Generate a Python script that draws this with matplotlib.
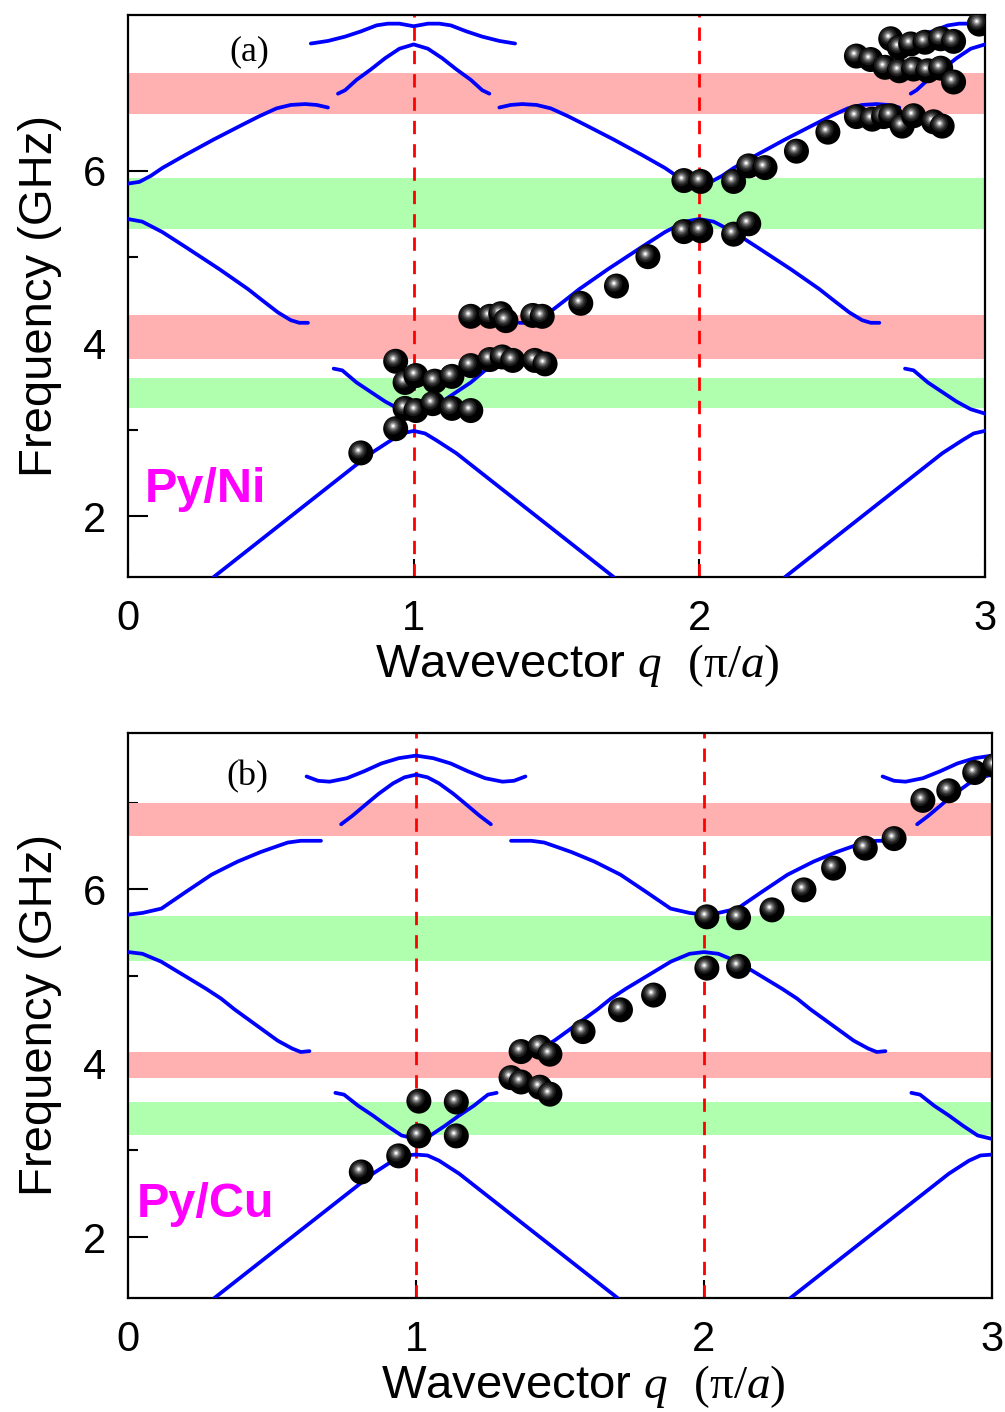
import matplotlib
matplotlib.use("Agg")
import matplotlib.pyplot as plt
from matplotlib.transforms import offset_copy

plt.rcParams['font.family'] = ['Liberation Sans', 'DejaVu Sans']
plt.rcParams['mathtext.fontset'] = 'custom'
plt.rcParams['mathtext.rm'] = 'Liberation Serif'
plt.rcParams['mathtext.it'] = 'Liberation Serif:italic'

# ---------------- panel (a): Py/Ni ----------------
# band-gap stripes (GHz)
a_gaps_red = [(6.66, 7.13), (3.82, 4.33)]
a_gaps_green = [(5.32, 5.91), (3.25, 3.60)]

# calculated dispersion branches (q in pi/a, f in GHz)
a_br1_q = [0.30, 0.50, 0.70, 0.85, 0.92, 0.96, 1.00, 1.04, 1.08, 1.15, 1.30, 1.50, 1.70]
a_br1_f = [1.30, 1.82, 2.34, 2.73, 2.88, 2.96, 2.99, 2.96, 2.88, 2.73, 2.34, 1.82, 1.30]
a_br1b_q = [2.30, 2.50, 2.70, 2.85, 2.92, 2.96, 3.00]
a_br1b_f = [1.30, 1.82, 2.34, 2.73, 2.88, 2.96, 2.99]

a_br2_q = [0.00, 0.05, 0.12, 0.20, 0.32, 0.42, 0.47, 0.525, 0.57, 0.60, 0.63]
a_br2_f = [5.44, 5.41, 5.29, 5.12, 4.86, 4.63, 4.50, 4.36, 4.27, 4.24, 4.24]
a_br2b_q = [1.37, 1.40, 1.43, 1.475, 1.53, 1.58, 1.68, 1.80, 1.88, 1.95, 2.00,
            2.05, 2.12, 2.20, 2.32, 2.42, 2.47, 2.525, 2.57, 2.60, 2.63]
a_br2b_f = [4.24, 4.24, 4.27, 4.36, 4.50, 4.63, 4.86, 5.12, 5.29, 5.41, 5.44,
            5.41, 5.29, 5.12, 4.86, 4.63, 4.50, 4.36, 4.27, 4.24, 4.24]

a_br3_q = [0.72, 0.75, 0.80, 0.85, 0.90, 0.95, 1.00, 1.05, 1.10, 1.15, 1.20, 1.25, 1.28]
a_br3_f = [3.71, 3.69, 3.55, 3.44, 3.33, 3.24, 3.19, 3.24, 3.33, 3.44, 3.55, 3.69, 3.71]
a_br3b_q = [2.72, 2.75, 2.80, 2.85, 2.90, 2.95, 3.00]
a_br3b_f = [3.71, 3.69, 3.55, 3.44, 3.33, 3.24, 3.19]

a_br4_q = [0.00, 0.04, 0.08, 0.12, 0.20, 0.30, 0.40, 0.46, 0.52, 0.57, 0.62, 0.66, 0.70]
a_br4_f = [5.85, 5.87, 5.94, 6.03, 6.18, 6.36, 6.53, 6.63, 6.72, 6.76, 6.77, 6.76, 6.73]
a_br4b_q = [1.30, 1.34, 1.38, 1.43, 1.48, 1.54, 1.60, 1.70, 1.80, 1.88, 1.92, 1.96, 2.00,
            2.04, 2.08, 2.12, 2.20, 2.30, 2.40, 2.46, 2.52, 2.57, 2.62, 2.66, 2.70]
a_br4b_f = [6.73, 6.76, 6.77, 6.76, 6.72, 6.63, 6.53, 6.36, 6.18, 6.03, 5.94, 5.87, 5.85,
            5.87, 5.94, 6.03, 6.18, 6.36, 6.53, 6.63, 6.72, 6.76, 6.77, 6.76, 6.73]

a_br5_q = [0.735, 0.76, 0.80, 0.85, 0.90, 0.95, 1.00, 1.05, 1.10, 1.15, 1.20, 1.24, 1.265]
a_br5_f = [6.89, 6.93, 7.05, 7.17, 7.30, 7.41, 7.46, 7.41, 7.30, 7.17, 7.05, 6.93, 6.89]
a_br5b_q = [2.74, 2.76, 2.80, 2.85, 2.90, 2.95, 3.00]
a_br5b_f = [6.89, 6.93, 7.05, 7.17, 7.30, 7.41, 7.46]

a_br6_q = [0.64, 0.70, 0.76, 0.815, 0.87, 0.91, 0.95, 1.00, 1.05, 1.09, 1.13, 1.185, 1.24, 1.30, 1.355]
a_br6_f = [7.47, 7.50, 7.55, 7.61, 7.68, 7.70, 7.70, 7.67, 7.70, 7.70, 7.68, 7.61, 7.55, 7.50, 7.47]
a_br6b_q = [2.64, 2.70, 2.76, 2.815, 2.87, 2.91, 2.95, 3.00]
a_br6b_f = [7.47, 7.50, 7.55, 7.61, 7.68, 7.70, 7.70, 7.67]

# measured modes
a_meas_q = [0.815, 0.937, 0.937, 0.97, 1.008, 1.074, 1.134, 1.20, 1.267, 1.31, 1.347, 1.424, 1.46,
            0.97, 1.008, 1.067, 1.134, 1.20,
            1.20, 1.267, 1.305, 1.323, 1.417, 1.45,
            1.585, 1.71, 1.82, 1.946, 2.005, 2.12, 2.173,
            1.946, 2.005, 2.12, 2.173, 2.23, 2.34, 2.45,
            2.55, 2.605, 2.645, 2.67, 2.71, 2.75, 2.82, 2.85,
            2.55, 2.60, 2.65, 2.70, 2.75, 2.80, 2.845, 2.89,
            2.67, 2.70, 2.74, 2.79, 2.845, 2.89, 2.98]
a_meas_f = [2.735, 3.015, 3.795, 3.55, 3.63, 3.565, 3.62, 3.745, 3.815, 3.845, 3.805, 3.805, 3.765,
            3.25, 3.225, 3.305, 3.25, 3.225,
            4.315, 4.315, 4.345, 4.265, 4.325, 4.315,
            4.465, 4.665, 5.005, 5.295, 5.305, 5.265, 5.385,
            5.885, 5.875, 5.875, 6.055, 6.035, 6.225, 6.445,
            6.625, 6.595, 6.625, 6.635, 6.515, 6.635, 6.565, 6.515,
            7.325, 7.285, 7.195, 7.155, 7.175, 7.155, 7.185, 7.025,
            7.525, 7.425, 7.465, 7.485, 7.525, 7.495, 7.695]

# ---------------- panel (b): Py/Cu ----------------
b_gaps_red = [(6.61, 6.99), (3.83, 4.13)]
b_gaps_green = [(5.18, 5.70), (3.17, 3.55)]

b_br1_q = [0.30, 0.50, 0.70, 0.85, 0.92, 0.96, 1.00, 1.04, 1.08, 1.15, 1.30, 1.50, 1.70]
b_br1_f = [1.30, 1.82, 2.34, 2.73, 2.88, 2.94, 2.95, 2.94, 2.88, 2.73, 2.34, 1.82, 1.30]
b_br1b_q = [2.30, 2.50, 2.70, 2.85, 2.92, 2.96, 3.00]
b_br1b_f = [1.30, 1.82, 2.34, 2.73, 2.88, 2.94, 2.95]

b_br2_q = [0.00, 0.05, 0.115, 0.20, 0.27, 0.323, 0.37, 0.42, 0.47, 0.52, 0.57, 0.60, 0.63]
b_br2_f = [5.28, 5.26, 5.17, 5.00, 4.86, 4.745, 4.62, 4.50, 4.38, 4.26, 4.17, 4.13, 4.14]
b_br2b_q = [1.37, 1.40, 1.43, 1.48, 1.53, 1.58, 1.63, 1.677, 1.73, 1.80, 1.885, 1.95, 2.00,
            2.05, 2.115, 2.20, 2.27, 2.323, 2.37, 2.42, 2.47, 2.52, 2.57, 2.60, 2.63]
b_br2b_f = [4.14, 4.13, 4.17, 4.26, 4.38, 4.50, 4.62, 4.745, 4.86, 5.00, 5.17, 5.26, 5.28,
            5.26, 5.17, 5.00, 4.86, 4.745, 4.62, 4.50, 4.38, 4.26, 4.17, 4.13, 4.14]

b_br3_q = [0.72, 0.75, 0.80, 0.85, 0.90, 0.95, 1.00, 1.05, 1.10, 1.15, 1.20, 1.25, 1.28]
b_br3_f = [3.66, 3.64, 3.51, 3.40, 3.28, 3.17, 3.13, 3.17, 3.28, 3.40, 3.51, 3.64, 3.66]
b_br3b_q = [2.72, 2.75, 2.80, 2.85, 2.90, 2.95, 3.00]
b_br3b_f = [3.66, 3.64, 3.51, 3.40, 3.28, 3.17, 3.13]

b_br4_q = [0.00, 0.05, 0.116, 0.20, 0.29, 0.38, 0.46, 0.52, 0.555, 0.60, 0.67]
b_br4_f = [5.71, 5.73, 5.78, 5.97, 6.17, 6.32, 6.43, 6.50, 6.54, 6.56, 6.56]
b_br4b_q = [1.33, 1.40, 1.445, 1.48, 1.54, 1.62, 1.71, 1.80, 1.884, 1.95, 2.00,
            2.05, 2.116, 2.20, 2.29, 2.38, 2.46, 2.52, 2.555, 2.60, 2.67]
b_br4b_f = [6.56, 6.56, 6.54, 6.50, 6.43, 6.32, 6.17, 5.97, 5.78, 5.73, 5.71,
            5.73, 5.78, 5.97, 6.17, 6.32, 6.43, 6.50, 6.54, 6.56, 6.56]

b_br5_q = [0.74, 0.78, 0.83, 0.87, 0.92, 0.96, 1.00, 1.04, 1.08, 1.13, 1.17, 1.22, 1.26]
b_br5_f = [6.75, 6.85, 6.99, 7.10, 7.22, 7.29, 7.32, 7.29, 7.22, 7.10, 6.99, 6.85, 6.75]
b_br5b_q = [2.74, 2.78, 2.83, 2.87, 2.92, 2.96, 3.00]
b_br5b_f = [6.75, 6.85, 6.99, 7.10, 7.22, 7.29, 7.32]

b_br6_q = [0.62, 0.66, 0.70, 0.76, 0.82, 0.88, 0.94, 1.00, 1.06, 1.12, 1.18, 1.24, 1.30, 1.34, 1.38]
b_br6_f = [7.30, 7.25, 7.24, 7.28, 7.36, 7.45, 7.51, 7.54, 7.51, 7.45, 7.36, 7.28, 7.24, 7.25, 7.30]
b_br6b_q = [2.62, 2.66, 2.70, 2.76, 2.82, 2.88, 2.94, 3.00]
b_br6b_f = [7.30, 7.25, 7.24, 7.28, 7.36, 7.45, 7.51, 7.54]

b_meas_q = [0.81, 0.94, 1.01, 1.01, 1.14, 1.14, 1.33, 1.365, 1.43, 1.465,
            1.365, 1.43, 1.465, 1.58, 1.71, 1.825, 2.01, 2.12, 2.01, 2.12,
            2.236, 2.347, 2.45, 2.56, 2.66, 2.76, 2.85, 2.94, 3.01]
b_meas_f = [2.75, 2.935, 3.565, 3.165, 3.555, 3.165, 3.835, 3.785, 3.725, 3.645,
            4.135, 4.185, 4.105, 4.365, 4.615, 4.785, 5.095, 5.115, 5.685, 5.675,
            5.765, 5.995, 6.245, 6.475, 6.585, 7.025, 7.135, 7.345, 7.425]

zone_edges = [1, 2]
x_ticks = [0, 1, 2, 3]
y_major = [2, 4, 6]
y_minor = [3, 5, 7]

W, H = 1005, 1412
fig = plt.figure(figsize=(W / 100, H / 100), dpi=100)


def box(l, t, r, b):
    return [l / W, 1 - b / H, (r - l) / W, (b - t) / H]


ax_a = fig.add_axes(box(128, 15, 985, 577))
ax_b = fig.add_axes(box(128, 733, 992, 1298))

BLUE = '#0000ff'
RED_GAP = '#ffb1b1'
GREEN_GAP = '#afffaf'


def draw_balls(ax, qs, fs, z0=5.0):
    px = 72.0 / 100.0
    hi = offset_copy(ax.transData, fig=ax.figure, x=-2.6 * px, y=2.8 * px, units='points')
    layers = [(25.0, '#000000', False), (17.0, '#1a1a1a', True), (13.0, '#363636', True),
              (10.0, '#5c5c5c', True), (7.0, '#8e8e8e', True), (4.4, '#c6c6c6', True),
              (2.2, '#ffffff', True)]
    z = z0
    for q, f in zip(qs, fs):
        for d, col, shifted in layers:
            ax.scatter([q], [f], s=(d * px) ** 2, c=col, edgecolors='none', linewidths=0,
                       transform=hi if shifted else ax.transData, zorder=z)
            z += 0.001


def style(ax, label_x):
    ax.set_xlim(0, 3)
    ax.set_ylim(1.30, 7.80)
    ax.set_xticks(x_ticks)
    ax.set_xticklabels([str(t) for t in x_ticks])
    ax.set_yticks(y_major)
    ax.set_yticklabels([str(t) for t in y_major])
    ax.set_yticks(y_minor, minor=True)
    ax.tick_params(axis='x', which='major', direction='in', length=13, width=1.5,
                   labelsize=30, pad=16, top=False)
    ax.tick_params(axis='y', which='major', direction='in', length=14.4, width=1.5,
                   labelsize=30, pad=16, right=False)
    ax.tick_params(axis='y', which='minor', direction='in', length=7.2, width=1.5, right=False)
    for s in ax.spines.values():
        s.set_linewidth(1.6)
    ax.set_ylabel('Frequency (GHz)', fontsize=34, labelpad=15)
    ax.set_xlabel(r'Wavevector $q$  $\mathrm{(\pi/}a\mathrm{)}$', fontsize=34, labelpad=2)
    ax.xaxis.label.set_x(label_x)


def panel(ax, reds, greens, branches, mq, mf, tag, tag_xy, name, name_xy, label_x):
    for lo, hi in reds:
        ax.axhspan(lo, hi, color=RED_GAP, lw=0, zorder=1.6)
    for lo, hi in greens:
        ax.axhspan(lo, hi, color=GREEN_GAP, lw=0, zorder=1.6)
    for x in zone_edges:
        ax.axvline(x, color='#ff0000', lw=2.0, dashes=(4.8, 3.6), zorder=2)
    for q, f in branches:
        ax.plot(q, f, color=BLUE, lw=2.7, solid_capstyle='round',
                solid_joinstyle='round', zorder=3)
    draw_balls(ax, mq, mf)
    ax.text(tag_xy[0], tag_xy[1], tag, transform=ax.transAxes, fontsize=26,
            family='Liberation Serif', ha='center', va='center', zorder=10)
    ax.text(name_xy[0], name_xy[1], name, transform=ax.transAxes, fontsize=35,
            fontweight='bold', color='#ff00ff', ha='left', va='center', zorder=10)
    style(ax, label_x)


panel(ax_a, a_gaps_red, a_gaps_green,
      [(a_br1_q, a_br1_f), (a_br1b_q, a_br1b_f), (a_br2_q, a_br2_f), (a_br2b_q, a_br2b_f),
       (a_br3_q, a_br3_f), (a_br3b_q, a_br3b_f), (a_br4_q, a_br4_f), (a_br4b_q, a_br4b_f),
       (a_br5_q, a_br5_f), (a_br5b_q, a_br5b_f), (a_br6_q, a_br6_f), (a_br6b_q, a_br6b_f)],
      a_meas_q, a_meas_f, '(a)', (0.142, 0.934), 'Py/Ni', (0.020, 0.155), 0.524)

panel(ax_b, b_gaps_red, b_gaps_green,
      [(b_br1_q, b_br1_f), (b_br1b_q, b_br1b_f), (b_br2_q, b_br2_f), (b_br2b_q, b_br2b_f),
       (b_br3_q, b_br3_f), (b_br3b_q, b_br3b_f), (b_br4_q, b_br4_f), (b_br4b_q, b_br4b_f),
       (b_br5_q, b_br5_f), (b_br5b_q, b_br5b_f), (b_br6_q, b_br6_f), (b_br6b_q, b_br6b_f)],
      b_meas_q, b_meas_f, '(b)', (0.138, 0.922), 'Py/Cu', (0.010, 0.165), 0.527)

fig.savefig('out.png', dpi=100)
